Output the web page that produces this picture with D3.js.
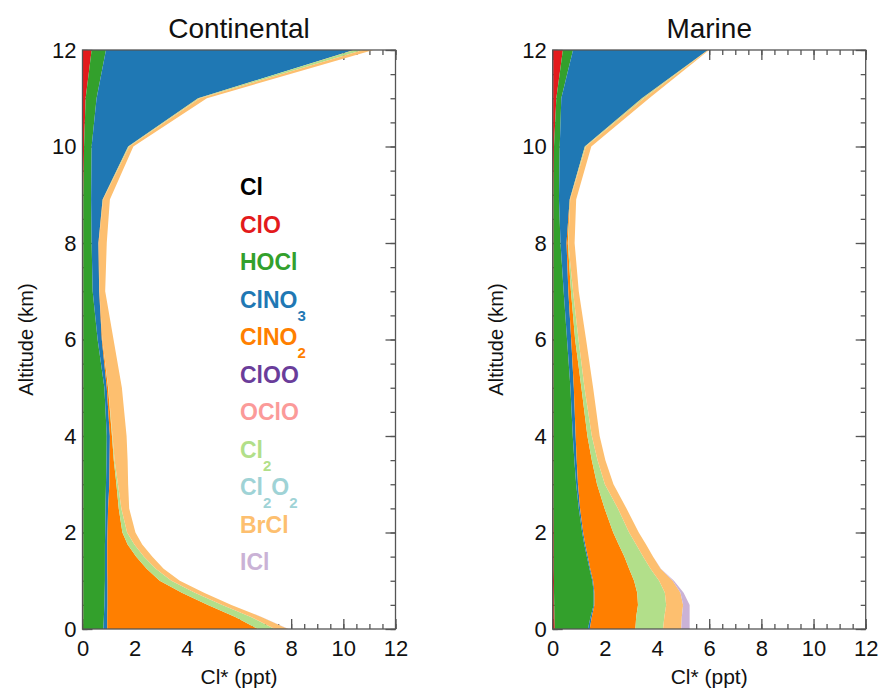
<!DOCTYPE html>
<html>
<head>
<meta charset="utf-8">
<script src="https://cdn.jsdelivr.net/npm/d3@7"></script>
<style>
  body { margin: 0; background: #fff; }
  svg { font-family: "Liberation Sans", Arial, sans-serif; }
</style>
</head>
<body>
<div id="chart"></div>
<script>
// Altitude levels (km) and Cl* per species (ppt)
const altitudes = [0, 0.25, 0.5, 0.75, 1, 1.25, 1.5, 1.75, 2, 2.5, 3, 3.5, 4, 5, 6, 7, 8, 8.9, 10, 11, 12];

const species = ["Cl", "ClO", "HOCl", "ClNO3", "ClNO2", "ClOO", "OClO", "Cl2", "Cl2O2", "BrCl", "ICl"];
const speciesColors = ["#000000", "#e31a1c", "#33a02c", "#1f78b4", "#ff7f00", "#6a3d9a", "#fb9a99", "#b2df8a", "#9fd3d6", "#fdbf6f", "#cab2d6"];

// Continental
const contCl    = [0.01, 0.01, 0.01, 0.01, 0.01, 0.01, 0.01, 0.01, 0.01, 0.01, 0.01, 0.01, 0.01, 0.01, 0.01, 0.01, 0.01, 0.01, 0.01, 0.02, 0.02];
const contClO   = [0.02, 0.02, 0.02, 0.02, 0.02, 0.02, 0.02, 0.02, 0.02, 0.02, 0.02, 0.02, 0.02, 0.02, 0.02, 0.02, 0.02, 0.02, 0.05, 0.10, 0.33];
const contHOCl  = [0.77, 0.79, 0.81, 0.82, 0.83, 0.83, 0.83, 0.83, 0.84, 0.85, 0.87, 0.89, 0.90, 0.81, 0.55, 0.36, 0.32, 0.30, 0.29, 0.42, 0.55];
const contClNO3 = [0.15, 0.13, 0.12, 0.11, 0.10, 0.09, 0.09, 0.09, 0.09, 0.10, 0.13, 0.12, 0.12, 0.09, 0.16, 0.25, 0.26, 0.44, 1.40, 3.89, 9.50];
const contClNO2 = [5.78, 4.91, 3.85, 2.85, 2.00, 1.51, 1.11, 0.78, 0.57, 0.41, 0.27, 0.16, 0.08, 0.05, 0.02, 0.01, 0.01, 0.01, 0.01, 0.02, 0.03];
const contClOO  = [0, 0, 0, 0, 0, 0, 0, 0, 0, 0, 0, 0, 0, 0, 0, 0, 0, 0, 0, 0, 0];
const contOClO  = [0, 0, 0, 0, 0, 0, 0, 0, 0, 0, 0, 0, 0, 0, 0, 0, 0, 0, 0, 0, 0];
const contCl2   = [0.64, 0.60, 0.55, 0.50, 0.45, 0.35, 0.30, 0.26, 0.18, 0.10, 0.06, 0.03, 0.02, 0.01, 0, 0, 0, 0.01, 0.03, 0.05, 0.32];
const contCl2O2 = [0, 0, 0, 0, 0, 0, 0, 0, 0, 0, 0, 0, 0, 0, 0, 0, 0, 0, 0, 0, 0];
const contBrCl  = [0.51, 0.40, 0.35, 0.35, 0.32, 0.30, 0.32, 0.30, 0.32, 0.30, 0.39, 0.50, 0.54, 0.52, 0.43, 0.22, 0.31, 0.26, 0.16, 0.27, 0.40];
const contICl   = [0.02, 0.01, 0, 0, 0, 0, 0, 0, 0, 0, 0, 0, 0, 0, 0, 0, 0, 0, 0, 0, 0];

// Marine
const marCl    = [0.02, 0.02, 0.02, 0.02, 0.01, 0.01, 0.01, 0.01, 0.01, 0.01, 0.01, 0.01, 0.01, 0.01, 0.01, 0.01, 0.01, 0.01, 0.01, 0.02, 0.02];
const marClO   = [0.06, 0.05, 0.04, 0.03, 0.04, 0.03, 0.03, 0.03, 0.03, 0.02, 0.02, 0.02, 0.02, 0.02, 0.02, 0.02, 0.02, 0.02, 0.04, 0.12, 0.37];
const marHOCl  = [1.27, 1.38, 1.51, 1.52, 1.47, 1.37, 1.27, 1.17, 1.09, 0.97, 0.87, 0.80, 0.74, 0.65, 0.52, 0.39, 0.27, 0.21, 0.22, 0.19, 0.39];
const marClNO3 = [0.07, 0.05, 0.03, 0.03, 0.03, 0.03, 0.04, 0.04, 0.04, 0.05, 0.07, 0.09, 0.11, 0.13, 0.16, 0.18, 0.23, 0.41, 0.96, 3.09, 5.17];
const marClNO2 = [1.75, 1.70, 1.67, 1.64, 1.57, 1.49, 1.40, 1.28, 1.15, 0.94, 0.73, 0.58, 0.45, 0.29, 0.15, 0.10, 0.05, 0.01, 0.01, 0.02, 0.01];
const marClOO  = [0, 0, 0, 0, 0, 0, 0, 0, 0, 0, 0, 0, 0, 0, 0, 0, 0, 0, 0, 0, 0];
const marOClO  = [0, 0, 0, 0, 0, 0, 0, 0, 0, 0, 0, 0, 0, 0, 0, 0, 0, 0, 0, 0, 0];
const marCl2   = [1.06, 1.08, 1.08, 1.06, 0.96, 0.82, 0.72, 0.67, 0.61, 0.51, 0.30, 0.22, 0.17, 0.12, 0.13, 0.08, 0.02, 0.01, 0.03, 0.06, 0.01];
const marCl2O2 = [0, 0, 0, 0, 0, 0, 0, 0, 0, 0, 0, 0, 0, 0, 0, 0, 0, 0, 0, 0, 0];
const marBrCl  = [0.70, 0.67, 0.65, 0.60, 0.52, 0.39, 0.38, 0.38, 0.37, 0.33, 0.33, 0.30, 0.30, 0.33, 0.29, 0.22, 0.24, 0.23, 0.21, 0.20, 0.03];
const marICl   = [0.32, 0.30, 0.25, 0.12, 0.05, 0.01, 0, 0, 0, 0, 0, 0, 0, 0, 0, 0, 0, 0, 0, 0, 0];

const xTicks = [0, 2, 4, 6, 8, 10, 12];
const yTicks = [0, 2, 4, 6, 8, 10, 12];

// Legend entries: [text, kind] pieces
const legendItems = [
  [["Cl", ""]],
  [["ClO", ""]],
  [["HOCl", ""]],
  [["ClNO", ""], ["3", "sub"]],
  [["ClNO", ""], ["2", "sub"]],
  [["ClOO", ""]],
  [["OClO", ""]],
  [["Cl", ""], ["2", "sub"]],
  [["Cl", ""], ["2", "sub"], ["O", ""], ["2", "sub"]],
  [["BrCl", ""]],
  [["ICl", ""]],
];

const panels = [
  { title: "Continental", left: 82.5, cols: [contCl, contClO, contHOCl, contClNO3, contClNO2, contClOO, contOClO, contCl2, contCl2O2, contBrCl, contICl] },
  { title: "Marine", left: 552.7, cols: [marCl, marClO, marHOCl, marClNO3, marClNO2, marClOO, marOClO, marCl2, marCl2O2, marBrCl, marICl] },
];

const width = 880, height = 689;
const plotW = 313, plotTop = 50, plotBottom = 629;
const axisColor = "#555";

const svg = d3.select("#chart").append("svg")
  .attr("width", width)
  .attr("height", height);

const y = d3.scaleLinear().domain([0, 12]).range([plotBottom, plotTop]);
const minor = d3.range(0, 12.01, 0.5);

panels.forEach((p) => {
  const x = d3.scaleLinear().domain([0, 12]).range([p.left, p.left + plotW]);
  const g = svg.append("g");

  // ticks pointing inward (drawn under the fills)
  const tickG = g.append("g");
  const drawAxis = (axis, transform, labels) => {
    const a = tickG.append("g").attr("transform", transform).call(axis);
    a.select(".domain").remove();
    a.selectAll("line").attr("stroke", axisColor).attr("stroke-width", 1.3);
    if (!labels) a.selectAll("text").remove();
    return a;
  };
  drawAxis(d3.axisBottom(x).tickValues(minor).tickSize(-5).tickFormat(""), `translate(0,${plotBottom})`);
  drawAxis(d3.axisTop(x).tickValues(minor).tickSize(-5).tickFormat(""), `translate(0,${plotTop})`);
  drawAxis(d3.axisRight(y).tickValues(minor).tickSize(-5).tickFormat(""), `translate(${p.left + plotW},0)`);
  drawAxis(d3.axisLeft(y).tickValues(minor).tickSize(-5).tickFormat(""), `translate(${p.left},0)`);

  const xb = drawAxis(d3.axisBottom(x).tickValues(xTicks).tickSize(-10).tickPadding(11).tickFormat(d3.format("d")), `translate(0,${plotBottom})`, true);
  drawAxis(d3.axisTop(x).tickValues(xTicks).tickSize(-10).tickFormat(""), `translate(0,${plotTop})`);
  drawAxis(d3.axisRight(y).tickValues(yTicks).tickSize(-10).tickFormat(""), `translate(${p.left + plotW},0)`);
  const yl = drawAxis(d3.axisLeft(y).tickValues(yTicks).tickSize(-10).tickPadding(6).tickFormat(d3.format("d")), `translate(${p.left},0)`, true);

  [xb, yl].forEach((a) => a.selectAll("text")
    .attr("fill", "#111")
    .attr("font-size", 22)
    .attr("font-family", "'Liberation Sans', Arial, sans-serif"));

  // stacked areas along x
  const rows = altitudes.map((alt, i) => {
    const r = { alt };
    species.forEach((s, k) => { r[s] = p.cols[k][i]; });
    return r;
  });
  const stacked = d3.stack().keys(species)(rows);
  const area = d3.area()
    .y((d) => y(d.data.alt))
    .x0((d) => x(d[0]))
    .x1((d) => x(d[1]));

  g.append("g")
    .selectAll("path")
    .data(stacked)
    .join("path")
    .attr("fill", (d, i) => speciesColors[i])
    .attr("d", area);

  // frame
  g.append("rect")
    .attr("x", p.left)
    .attr("y", plotTop)
    .attr("width", plotW)
    .attr("height", plotBottom - plotTop)
    .attr("fill", "none")
    .attr("stroke", axisColor)
    .attr("stroke-width", 1.3);

  // titles and labels
  g.append("text")
    .attr("x", p.left + plotW / 2)
    .attr("y", 38)
    .attr("text-anchor", "middle")
    .attr("font-size", 28)
    .attr("fill", "#111")
    .text(p.title);

  g.append("text")
    .attr("x", p.left + plotW / 2)
    .attr("y", 684)
    .attr("text-anchor", "middle")
    .attr("font-size", 21)
    .attr("fill", "#111")
    .text("Cl* (ppt)");

  g.append("text")
    .attr("transform", `translate(${p.left - 50},${(plotTop + plotBottom) / 2}) rotate(-90)`)
    .attr("text-anchor", "middle")
    .attr("font-size", 20)
    .attr("fill", "#111")
    .text("Altitude (km)");
});

// legend in the continental panel
const legend = svg.append("g");
legendItems.forEach((parts, i) => {
  const t = legend.append("text")
    .attr("x", 240)
    .attr("y", 195 + i * 37.5)
    .attr("font-size", 23)
    .attr("font-weight", "bold")
    .attr("fill", speciesColors[i]);
  let shifted = false;
  parts.forEach(([txt, kind]) => {
    const ts = t.append("tspan").text(txt);
    if (kind === "sub") {
      ts.attr("font-size", 15).attr("dy", shifted ? 0 : 13);
      shifted = true;
    } else if (shifted) {
      ts.attr("dy", -13);
      shifted = false;
    }
  });
});
</script>
</body>
</html>
